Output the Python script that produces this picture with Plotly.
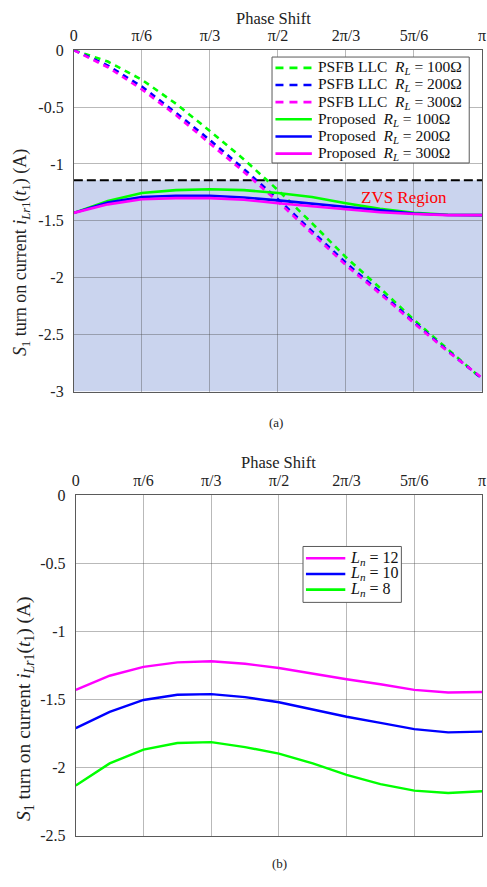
import math
import plotly.graph_objects as go

W, H = 487, 887
FONT = "Liberation Serif, Times New Roman, Times, serif"

# phase shift samples, 0 .. pi in steps of pi/12
phase = [k * math.pi / 12 for k in range(13)]

# (a) conventional PSFB LLC, S1 turn-on current
psfb_100 = [0, -0.10, -0.26, -0.47, -0.71, -0.96, -1.23, -1.52, -1.82, -2.09, -2.37, -2.63, -2.89]
psfb_200 = [0, -0.135, -0.32, -0.55, -0.79, -1.045, -1.31, -1.59, -1.87, -2.125, -2.39, -2.645, -2.885]
psfb_300 = [0, -0.15, -0.345, -0.57, -0.82, -1.07, -1.33, -1.61, -1.89, -2.14, -2.40, -2.65, -2.88]
# (a) proposed converter
prop_100 = [-1.43, -1.325, -1.255, -1.23, -1.222, -1.23, -1.255, -1.29, -1.345, -1.395, -1.43, -1.447, -1.45]
prop_200 = [-1.43, -1.34, -1.29, -1.28, -1.28, -1.295, -1.32, -1.35, -1.38, -1.41, -1.435, -1.448, -1.45]
prop_300 = [-1.43, -1.355, -1.31, -1.30, -1.30, -1.315, -1.345, -1.37, -1.40, -1.425, -1.44, -1.45, -1.45]
ZVS_LIMIT = -1.144

# (b) proposed converter for different inductance ratios
ln_12 = [-1.428, -1.324, -1.259, -1.226, -1.218, -1.236, -1.267, -1.31, -1.35, -1.387, -1.428, -1.447, -1.444]
ln_10 = [-1.709, -1.589, -1.502, -1.464, -1.459, -1.481, -1.519, -1.572, -1.625, -1.67, -1.716, -1.74, -1.735]
ln_8 = [-2.13, -1.968, -1.867, -1.818, -1.812, -1.848, -1.896, -1.968, -2.052, -2.12, -2.168, -2.185, -2.173]

x_tickvals = [k * math.pi / 6 for k in range(7)]
x_ticktext = ["0", "π/6", "π/3", "π/2", "2π/3", "5π/6", "π"]
ya_tickvals = [0, -0.5, -1, -1.5, -2, -2.5, -3]
ya_ticktext = ["0", "-0.5", "-1", "-1.5", "-2", "-2.5", "-3"]
yb_tickvals = [0, -0.5, -1, -1.5, -2, -2.5]
yb_ticktext = ["0", "-0.5", "-1", "-1.5", "-2", "-2.5"]

GREEN, BLUE, MAGENTA = "#00ff00", "#0000ff", "#ff00ff"
RL = "<i>R</i><sub><i>L</i></sub>"
series_a = [
    (psfb_100, GREEN, "dash", f"PSFB LLC\u00a0\u00a0{RL} = 100Ω"),
    (psfb_200, BLUE, "dash", f"PSFB LLC\u00a0\u00a0{RL} = 200Ω"),
    (psfb_300, MAGENTA, "dash", f"PSFB LLC\u00a0\u00a0{RL} = 300Ω"),
    (prop_100, GREEN, "solid", f"Proposed\u00a0\u00a0{RL} = 100Ω"),
    (prop_200, BLUE, "solid", f"Proposed\u00a0\u00a0{RL} = 200Ω"),
    (prop_300, MAGENTA, "solid", f"Proposed\u00a0\u00a0{RL} = 300Ω"),
]
series_b = [
    (ln_12, MAGENTA, "<i>L</i><sub><i>n</i></sub> = 12"),
    (ln_10, BLUE, "<i>L</i><sub><i>n</i></sub> = 10"),
    (ln_8, GREEN, "<i>L</i><sub><i>n</i></sub> = 8"),
]


def px(x):
    return x / W


def py(y):
    return 1 - y / H


fig = go.Figure()
for ys, color, dash, name in series_a:
    fig.add_trace(go.Scatter(
        x=phase, y=ys, mode="lines", name=name, showlegend=False,
        line=dict(color=color, width=2.6, dash="6px,5px" if dash == "dash" else "solid"),
        xaxis="x", yaxis="y"))
for ys, color, name in series_b:
    fig.add_trace(go.Scatter(
        x=phase, y=ys, mode="lines", name=name, showlegend=False,
        line=dict(color=color, width=2.4), xaxis="x2", yaxis="y2"))

GRID = "rgba(70,70,70,0.38)"
FRAME = "#5a5a5a"
axis_common = dict(showline=True, mirror=True, linecolor=FRAME, linewidth=1,
                   gridcolor=GRID, gridwidth=1, zeroline=False, ticks="",
                   ticklabeloverflow="allow",
                   tickfont=dict(family=FONT, size=16, color="#222"))

fig.update_layout(
    width=W, height=H, margin=dict(l=0, r=0, t=0, b=0),
    paper_bgcolor="white", plot_bgcolor="white", showlegend=False,
    font=dict(family=FONT),
    xaxis=dict(domain=[px(71), px(486)], anchor="y", side="top", range=[0, math.pi],
               tickvals=x_tickvals, ticktext=x_ticktext, ticklabelstandoff=2, **axis_common),
    yaxis=dict(domain=[py(391), py(43)], anchor="x", range=[-3, 0],
               tickvals=ya_tickvals, ticktext=ya_ticktext, ticklabelstandoff=6, **axis_common),
    xaxis2=dict(domain=[px(73), px(486)], anchor="y2", side="top", range=[0, math.pi],
                tickvals=x_tickvals, ticktext=x_ticktext, ticklabelstandoff=2, **axis_common),
    yaxis2=dict(domain=[py(844), py(497)], anchor="x2", range=[-2.5, 0],
                tickvals=yb_tickvals, ticktext=yb_ticktext, ticklabelstandoff=6, **axis_common),
)

shapes = [
    # ZVS region shading and its boundary
    dict(type="rect", xref="x", yref="y", x0=0, x1=math.pi, y0=-3, y1=ZVS_LIMIT,
         fillcolor="rgb(202,212,238)", line=dict(width=0), layer="below"),
    dict(type="line", xref="x", yref="y", x0=0, x1=math.pi, y0=ZVS_LIMIT, y1=ZVS_LIMIT,
         line=dict(color="black", width=2, dash="9px,4px"), layer="between"),
]
annotations = [
    dict(text="ZVS Region", x=0.808 * math.pi, y=-1.296, xref="x", yref="y",
         showarrow=False, font=dict(family=FONT, size=17, color="red")),
]

# panel captions and axis titles
ylabel = "<i>S</i><sub>1</sub> turn on current <i>i</i><sub><i>Lr</i>1</sub>(<i>t</i><sub>1</sub>) (A)"
for text, x, y, angle, size in [
    ("Phase Shift", 274, 11, 0, 16.5),
    ("Phase Shift", 279, 463, 0, 16.5),
    ("(a)", 277, 423, 0, 13),
    ("(b)", 280, 872, 0, 13),
    (ylabel, 18, 249, -90, 18),
    (ylabel, 22, 714, -90, 19.5),
]:
    annotations.append(dict(text=text, x=px(x), y=py(y), xref="paper", yref="paper",
                            showarrow=False, textangle=angle,
                            font=dict(family=FONT, size=size, color="#222"),
                            xanchor="center", yanchor="middle"))


def add_legend(box, line_x, text_x, rows, entries, size):
    x0, y0, x1, y1 = box
    shapes.append(dict(type="rect", xref="paper", yref="paper", x0=px(x0), x1=px(x1),
                       y0=py(y1), y1=py(y0), fillcolor="white",
                       line=dict(color=FRAME, width=1), layer="above"))
    for (color, dash, label), ry in zip(entries, rows):
        shapes.append(dict(type="line", xref="paper", yref="paper",
                           x0=px(line_x[0]), x1=px(line_x[1]), y0=py(ry), y1=py(ry),
                           line=dict(color=color, width=2.6,
                                     dash="8px,6px" if dash == "dash" else "solid"),
                           layer="above"))
        annotations.append(dict(text=label, x=px(text_x), y=py(ry), xref="paper", yref="paper",
                                showarrow=False, xanchor="left", yanchor="middle",
                                font=dict(family=FONT, size=size, color="#111")))


add_legend((272.5, 50, 473, 158), (276, 313), 317,
           [61, 78.5, 96, 113.5, 131, 148.5],
           [(c, d, n) for _, c, d, n in series_a], 15.5)
add_legend((304, 549, 404, 606), (307, 347), 350,
           [561, 577, 593],
           [(c, "solid", n) for _, c, n in series_b], 16)

fig.update_layout(shapes=shapes, annotations=annotations)
fig.write_html("out.html")
